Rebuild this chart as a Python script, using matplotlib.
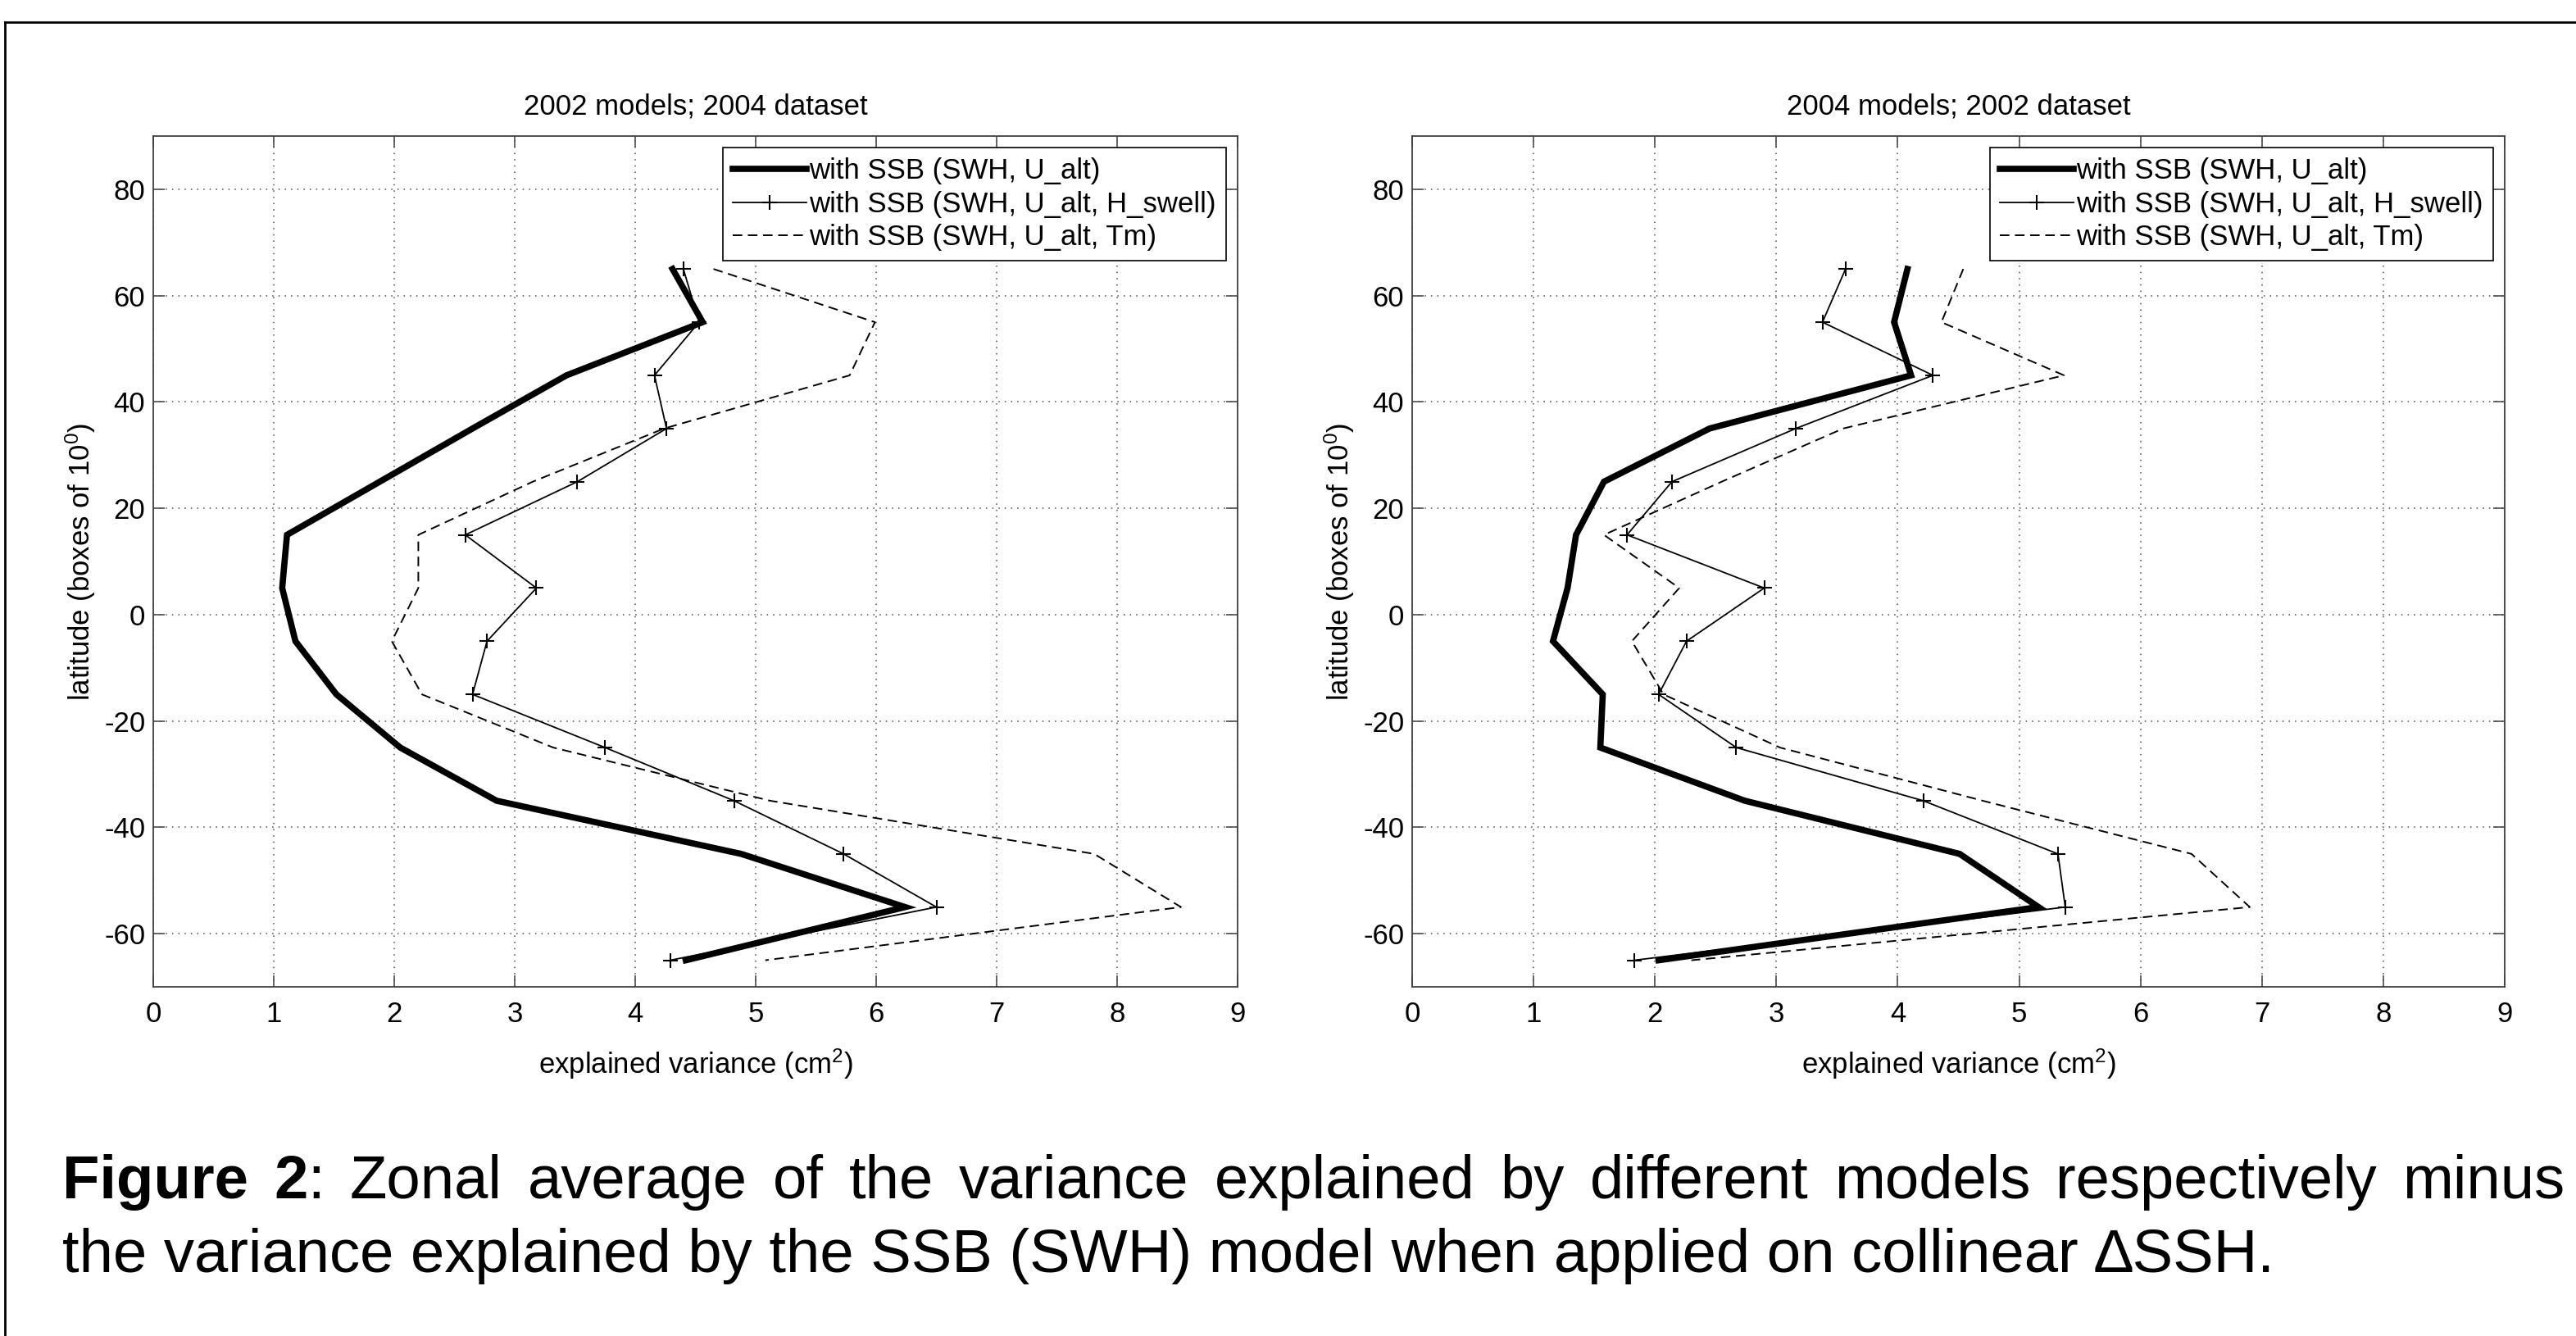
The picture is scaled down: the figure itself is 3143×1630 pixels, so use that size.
import numpy as np
import matplotlib
matplotlib.use("Agg")
from matplotlib import pyplot as plt
from matplotlib.lines import Line2D

plt.rcParams['font.family'] = ['Liberation Sans', 'DejaVu Sans']
plt.rcParams['mathtext.fontset'] = 'custom'
plt.rcParams['mathtext.rm'] = 'Liberation Sans'
plt.rcParams['mathtext.it'] = 'Liberation Sans:italic'
plt.rcParams['axes.unicode_minus'] = False

# latitude boxes (centres of 10 degree bands)
latitudes = [65, 55, 45, 35, 25, 15, 5, -5, -15, -25, -35, -45, -55, -65]

# left panel: 2002 models applied on the 2004 dataset
left_ualt = [4.31, 4.56, 3.43, 2.65, 1.88, 1.11, 1.07, 1.18, 1.52, 2.05, 2.85, 4.88, 6.24, 4.42]
left_hswell = [4.40, 4.53, 4.16, 4.26, 3.52, 2.59, 3.18, 2.77, 2.65, 3.75, 4.82, 5.73, 6.50, 4.29]
left_tm = [4.65, 5.99, 5.78, 4.24, 3.15, 2.20, 2.20, 1.98, 2.23, 3.32, 5.12, 7.81, 8.53, 5.08]

# right panel: 2004 models applied on the 2002 dataset
right_ualt = [4.08, 3.97, 4.11, 2.45, 1.58, 1.35, 1.28, 1.16, 1.57, 1.55, 2.74, 4.51, 5.16, 2.03]
right_hswell = [3.57, 3.38, 4.29, 3.16, 2.14, 1.77, 2.90, 2.26, 2.03, 2.67, 4.21, 5.32, 5.38, 1.83]
right_tm = [4.54, 4.36, 5.37, 3.55, 2.55, 1.58, 2.20, 1.81, 2.07, 3.03, 4.70, 6.42, 6.90, 2.30]

titles = ["2002 models; 2004 dataset", "2004 models; 2002 dataset"]
labels = ["with SSB (SWH, U_alt)",
          "with SSB (SWH, U_alt, H_swell)",
          "with SSB (SWH, U_alt, Tm)"]

W, H = 3143, 1630
fig = plt.figure(figsize=(W / 100, H / 100), dpi=100)
fs = 25

panels = [(left_ualt, left_hswell, left_tm), (right_ualt, right_hswell, right_tm)]
lefts = [187 / W, 1723 / W]
widths = [1323 / W, 1333 / W]
bottom = (H - 1204) / H
height = (1204 - 166) / H

for i, (ualt, hswell, tm) in enumerate(panels):
    ax = fig.add_axes([lefts[i], bottom, widths[i], height])
    ax.plot(ualt, latitudes, color='black', lw=5.5, solid_joinstyle='miter',
            label=labels[0])
    ax.plot(hswell, latitudes, color='black', lw=1.3, marker='+', ms=13,
            mew=1.5, label=labels[1])
    ax.plot(tm, latitudes, color='black', lw=1.4, ls=(0, (6, 3.5)),
            label=labels[2])

    ax.set_xlim(0, 9)
    ax.set_ylim(-70, 90)
    ax.set_xticks(np.arange(0, 10, 1))
    ax.set_yticks(np.arange(-60, 81, 20))
    ax.grid(True, color='0.3', ls=(0, (1, 4)), lw=1.1)
    ax.tick_params(direction='in', top=True, right=True, length=10,
                   width=1.2, color='0.3', labelsize=fs)
    ax.tick_params(axis='x', pad=12)
    ax.tick_params(axis='y', pad=7)
    for sp in ax.spines.values():
        sp.set_linewidth(1.3)
        sp.set_color('0.25')

    ax.set_title(titles[i], fontsize=fs, pad=19)
    ax.set_xlabel(r'explained variance (cm$^2$)', fontsize=fs, labelpad=17)
    ax.set_ylabel(r'latitude (boxes of 10$^0$)', fontsize=fs, labelpad=6)

    leg = ax.legend(loc='upper right', fontsize=fs, fancybox=False,
                    framealpha=1, edgecolor='black', borderaxespad=0.4,
                    handlelength=2.6, handletextpad=0.1, labelspacing=0.22,
                    borderpad=0.35)
    leg.get_frame().set_linewidth(1.2)

# frame round the figure (top and left edges only are visible)
fig.add_artist(Line2D([6 / W, 1], [1 - 27 / H, 1 - 27 / H], color='black', lw=2))
fig.add_artist(Line2D([6 / W, 6 / W], [0, 1 - 27 / H], color='black', lw=2))

# caption, first line justified
cap_fs = 53.5
fig.canvas.draw()
renderer = fig.canvas.get_renderer()


def text_width(s, weight):
    t = fig.text(0, 0, s, fontsize=cap_fs, fontweight=weight)
    w = t.get_window_extent(renderer).width
    t.remove()
    return w


line1 = [[("Figure", "bold")], [("2", "bold"), (":", "normal")]]
line1 += [[(w, "normal")] for w in
          "Zonal average of the variance explained by different models respectively minus".split()]
x0, x1 = 76, 3129
tok_w = [sum(text_width(s, wt) for s, wt in tok) for tok in line1]
gap = (x1 - x0 - sum(tok_w)) / (len(line1) - 1)
x = x0
for tok, tw in zip(line1, tok_w):
    xx = x
    for s, wt in tok:
        fig.text(xx / W, 1 - 1462 / H, s, fontsize=cap_fs, fontweight=wt,
                 va='baseline', ha='left')
        xx += text_width(s, wt)
    x += tw + gap

fig.text(x0 / W, 1 - 1552 / H,
         "the variance explained by the SSB (SWH) model when applied on collinear \u2206SSH.",
         fontsize=cap_fs, va='baseline', ha='left')

fig.savefig("out.png", dpi=100, facecolor='white')
